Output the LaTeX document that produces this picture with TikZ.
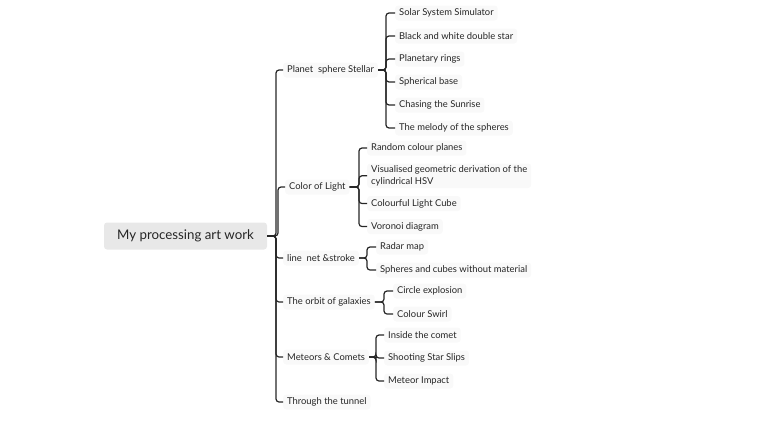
\documentclass[tikz,border=0pt]{standalone}
\usepackage{fontspec}
\setmainfont{Lato}
\usetikzlibrary{positioning}

\begin{document}
\begin{tikzpicture}[
    x=1pt, y=-1pt,
    rt/.style={fill=gray!18, rounded corners=3pt, minimum width=163pt,
      minimum height=27pt, font=\fontsize{13.3}{15}\selectfont, text=black!85},
    br/.style={fill=gray!5, rounded corners=3pt, minimum height=15pt,
      inner xsep=4pt, inner ysep=2pt, font=\fontsize{9.4}{12}\selectfont,
      text=black!85, anchor=west},
    lf/.style={br, align=left},
    conn/.style={line width=1.2pt, black!85, rounded corners=3pt},
    node distance=7.6pt
  ]
    \useasboundingbox (0,0) rectangle (764,421);
    \node[rt] (r) at (185.5,236) {My processing art work};
    \node[br] (b1) at (283,70)  {Planet\ \ sphere Stellar};
    \node[br] (b2) at (285,187) {Color of Light};
    \node[br] (b3) at (283,258) {line\ \ net \&stroke};
    \node[br] (b4) at (283,302) {The orbit of galaxies};
    \node[br] (b5) at (283,357) {Meteors \& Comets};
    \node[br] (b6) at (283,402) {Through the tunnel};
    % planet sphere stellar
    \node[lf] (l11) at (395,13) {Solar System Simulator};
    \node[lf, below=of l11.south west, anchor=north west] (l12) {Black and white double star};
    \node[lf, below=of l12.south west, anchor=north west] (l13) {Planetary rings};
    \node[lf, below=of l13.south west, anchor=north west] (l14) {Spherical base};
    \node[lf, below=of l14.south west, anchor=north west] (l15) {Chasing the Sunrise};
    \node[lf, below=of l15.south west, anchor=north west] (l16) {The melody of the spheres};
    % color of light
    \node[lf] (l21) at (367,148) {Random colour planes};
    \node[lf, below=of l21.south west, anchor=north west] (l22) {Visualised geometric derivation of the\\cylindrical HSV};
    \node[lf, below=of l22.south west, anchor=north west] (l23) {Colourful Light Cube};
    \node[lf, below=of l23.south west, anchor=north west] (l24) {Voronoi diagram};
    % line net stroke
    \node[lf] (l31) at (376,247) {Radar map};
    \node[lf, below=of l31.south west, anchor=north west] (l32) {Spheres and cubes without material};
    % orbit
    \node[lf] (l41) at (393,291) {Circle explosion};
    \node[lf, below=of l41.south west, anchor=north west] (l42) {Colour Swirl};
    % meteors
    \node[lf] (l51) at (384,335) {Inside the comet};
    \node[lf, below=of l51.south west, anchor=north west] (l52) {Shooting Star Slips};
    \node[lf, below=of l52.south west, anchor=north west] (l53) {Meteor Impact};

    \foreach \b in {b1,b2,b3,b4,b5,b6}
      \draw[conn] (\b.west) -- ++(-7,0) |- (r.east);
    \foreach \l in {l11,l12,l13,l14,l15,l16}
      \draw[conn] (\l.west) -- ++(-9,0) |- (b1.east);
    \foreach \l in {l21,l22,l23,l24}
      \draw[conn] (\l.west) -- ++(-8,0) |- (b2.east);
    \foreach \l in {l31,l32}
      \draw[conn] (\l.west) -- ++(-9,0) |- (b3.east);
    \foreach \l in {l41,l42}
      \draw[conn] (\l.west) -- ++(-9,0) |- (b4.east);
    \foreach \l in {l51,l52,l53}
      \draw[conn] (\l.west) -- ++(-8,0) |- (b5.east);
  \end{tikzpicture}
\end{document}
